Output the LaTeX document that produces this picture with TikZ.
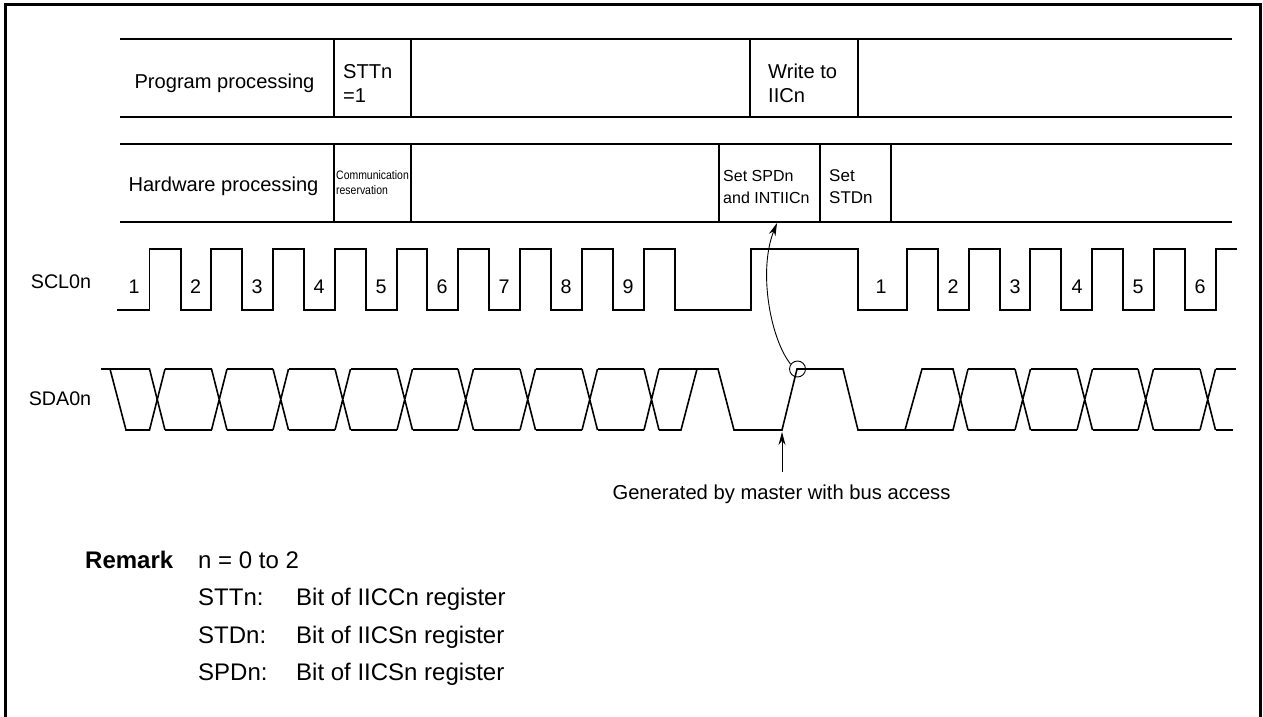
\documentclass[tikz,border=0pt]{standalone}
\usepackage{fontspec}
\setmainfont{Liberation Sans}
\newfontfamily\narrowfont[FakeStretch=0.85]{Liberation Sans}
\usepackage{tikz}
\usetikzlibrary{arrows.meta}
\tikzset{
    sigline/.style={line width=1.6pt, line join=miter},
    bandline/.style={line width=1.6pt},
    ptr/.style={line width=0.9pt, -{Stealth[length=13pt,width=7pt]}},
    lbl/.style={inner sep=0pt, font=\fontsize{20.1}{24}\selectfont},
    lblleft/.style={lbl, anchor=west, align=left},
    cell/.style={inner sep=0pt, anchor=west, align=left, font=\fontsize{16}{22}\selectfont},
    tiny cell/.style={inner sep=0pt, anchor=west, align=left, font=\narrowfont\fontsize{12.3}{15}\selectfont},
    rem/.style={inner sep=0pt, anchor=base west, font=\fontsize{24}{28}\selectfont},
}

\begin{document}
\begin{tikzpicture}[x=1pt, y=-1pt]
    \useasboundingbox (0,0) rectangle (1263,717);
    % Frame, open at the bottom
    \draw[line width=3.3pt] (5.5,717) -- (5.5,4.5) -- (1260.5,4.5) -- (1260.5,717);

    % Program processing band
    \foreach \y in {39,117} \draw[bandline] (120,\y) -- (1232,\y);
    \foreach \x in {334,411,750,858} \draw[bandline] (\x,39) -- (\x,117);
    \node[lbl] (prog) at (224.5,83) {Program processing};
    \node[lblleft] (stt) at (343,83) {STTn\\=1};
    \node[lblleft] (write) at (768,83) {Write to\\IICn};

    % Hardware processing band
    \foreach \y in {144,222} \draw[bandline] (120,\y) -- (1232,\y);
    \foreach \x in {334,411,719,820,891} \draw[bandline] (\x,144) -- (\x,222);
    \node[lbl] (hard) at (223.5,186) {Hardware processing};
    \node[tiny cell] (resv) at (336,183) {Communication\\reservation};
    \node[cell] (setspd) at (723,187) {Set SPDn\\and INTIICn};
    \node[cell, font=\fontsize{17}{22}\selectfont] (setstd) at (829,187) {Set\\STDn};

    % SCL0n
    \node[lbl, font=\fontsize{19.7}{24}\selectfont] (scl) at (61,282) {SCL0n};
    \draw[sigline] (117,310) -- (149.5,310) -- (149.5,249) -- (181,249) -- (181,310) -- (211,310)
        -- (211,249) -- (242,249) -- (242,310) -- (273,310) -- (273,249) -- (304,249) -- (304,310) -- (335,310)
        -- (335,249) -- (366,249) -- (366,310) -- (397,310) -- (397,249) -- (427,249) -- (427,310) -- (458,310)
        -- (458,249) -- (489,249) -- (489,310) -- (520,310) -- (520,249) -- (551,249) -- (551,310) -- (582,310)
        -- (582,249) -- (613,249) -- (613,310) -- (644,310) -- (644,249) -- (675,249) -- (675,310) -- (751,310)
        -- (751,249) -- (858,249) -- (858,310) -- (907,310) -- (907,249) -- (938,249) -- (938,310) -- (969,310)
        -- (969,249) -- (1000,249) -- (1000,310) -- (1030,310) -- (1030,249) -- (1061,249) -- (1061,310) -- (1092,310)
        -- (1092,249) -- (1123,249) -- (1123,310) -- (1154,310) -- (1154,249) -- (1185,249) -- (1185,310) -- (1216,310)
        -- (1216,249) -- (1237,249);
    \foreach \x/\n in {134/1,195.5/2,257/3,319/4,381/5,442/6,504/7,566/8,628/9,881/1,953/2,1015/3,1077/4,1138/5,1200/6}
        \node[lbl, font=\fontsize{19.7}{24}\selectfont] (clk\x) at (\x,286.5) {\n};

    % SDA0n
    \node[lbl, font=\fontsize{19.7}{24}\selectfont] (sda) at (60,399) {SDA0n};
    \draw[sigline] (101,369) -- (149.5,369) -- (165,430);
    \draw[sigline] (110,369) -- (126,430) -- (149.5,430) -- (165,369);
    \foreach \a/\b in {165/211.5,227/273,288.5/335,350.5/397,412.5/458,473.5/520,535.5/582,597.5/644}
        \draw[sigline] (\a,369) -- (\b,369) (\a,430) -- (\b,430);
    \foreach \a/\b in {211.5/227,273/288.5,335/350.5,397/412.5,458/473.5,520/535.5,582/597.5,644/659}
        \draw[sigline] (\a,369) -- (\b,430) (\a,430) -- (\b,369);
    \draw[sigline] (659,430) -- (681,430) -- (697,369);
    \draw[sigline] (659,369) -- (718,369) -- (734,430) -- (782,430) -- (797,369) -- (843,369) -- (858,430) -- (953,430) -- (968,369);
    \draw[sigline] (905,430) -- (922,369) -- (953,369) -- (968,430);
    \foreach \a/\b in {968/1015,1030.5/1077,1092.5/1138,1153.5/1200}
        \draw[sigline] (\a,369) -- (\b,369) (\a,430) -- (\b,430);
    \foreach \a/\b in {1015/1030.5,1077/1092.5,1138/1153.5,1200/1215.5}
        \draw[sigline] (\a,369) -- (\b,430) (\a,430) -- (\b,369);
    \draw[sigline] (1215.5,369) -- (1236,369) (1215.5,430) -- (1233,430);

    % Pointers
    \node[draw, circle, line width=0.9pt, minimum size=16pt, inner sep=0pt] (stop) at (797.5,369) {};
    \coordinate (inttip) at (777,223);
    \draw[ptr] (stop.145) .. controls (770,338) and (758,270) .. (inttip);
    \node[lbl, font=\fontsize{20.2}{24}\selectfont] (gen) at (781.5,494) {Generated by master with bus access};
    \coordinate (gentail) at (782,472);
    \coordinate (gentip) at (782,432);
    \draw[ptr] (gentail) -- (gentip);

    % Remark
    \node[rem, font=\fontsize{24}{28}\selectfont\bfseries] (remark) at (85,568) {Remark};
    \node[rem] (range) at (198,568) {n = 0 to 2};
    \node[rem] (sttn) at (198,605) {STTn:};
    \node[rem] (sttb) at (296,605) {Bit of IICCn register};
    \node[rem] (stdn) at (198,643) {STDn:};
    \node[rem] (stdb) at (296,643) {Bit of IICSn register};
    \node[rem] (spdn) at (198,680) {SPDn:};
    \node[rem] (spdb) at (296,680) {Bit of IICSn register};
\end{tikzpicture}
\end{document}
